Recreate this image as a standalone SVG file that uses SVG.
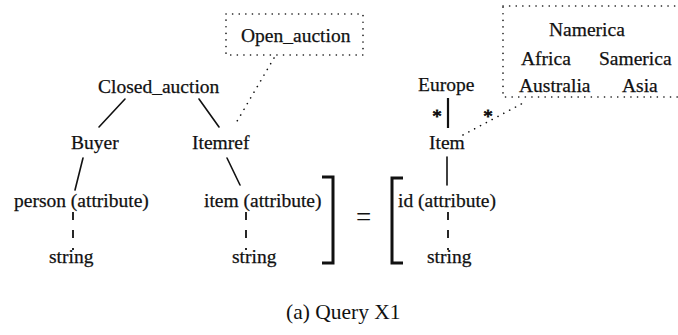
<svg xmlns="http://www.w3.org/2000/svg" width="678" height="335" viewBox="0 0 678 335">
<style>
text{font-family:"Liberation Serif","Times New Roman",serif;font-size:19.5px;fill:#111;stroke:#111;stroke-width:0.25}
.cap{font-size:21.5px;stroke-width:0}
.star{font-size:19px;text-anchor:middle;stroke-width:0.8}
.solid{stroke:#111;stroke-width:1.6;fill:none;stroke-linecap:round}
.thick{stroke:#111;stroke-width:2.2;fill:none}
.dash{stroke:#111;stroke-width:1.8;fill:none;stroke-dasharray:8 10}
.dot{stroke:#111;stroke-width:1.6;fill:none;stroke-dasharray:0.1 6.5;stroke-linecap:round}
.br{stroke:#111;stroke-width:3;fill:none;stroke-linejoin:miter}
</style>
<rect width="678" height="335" fill="#fff"/>
<g id="connectors">
<line class="solid" x1="125" y1="99" x2="99" y2="127"/>
<line class="solid" x1="199" y1="99" x2="219" y2="127"/>
<line class="solid" x1="83" y1="158" x2="75" y2="190"/>
<line class="solid" x1="227" y1="158" x2="240" y2="185"/>
<line class="dot" x1="274" y1="58" x2="236" y2="123"/>
<line class="dash" x1="73" y1="212" x2="73" y2="250"/>
<line class="dash" x1="246" y1="212" x2="246" y2="250"/>
<line class="thick" x1="448" y1="98" x2="448" y2="128"/>
<line class="solid" x1="447" y1="157" x2="447" y2="185"/>
<line class="dash" x1="448" y1="212" x2="448" y2="250"/>
<line class="dot" x1="463" y1="135" x2="527" y2="101"/>
<text class="star" x="437" y="123">*</text>
<text class="star" x="488" y="123">*</text>
</g>
<g id="open_auction">
<rect class="dot" x="226" y="14" width="137" height="41"/>
<text x="241" y="42">Open_auction</text>
</g>
<g id="regions">
<rect class="dot" x="503" y="6" width="200" height="91"/>
<text x="549" y="36">Namerica</text>
<text x="521" y="65">Africa</text>
<text x="599" y="65">Samerica</text>
<text x="519" y="92">Australia</text>
<text x="622" y="92">Asia</text>
</g>
<g id="closed_auction"><text x="98" y="93">Closed_auction</text></g>
<g id="buyer"><text x="71" y="149">Buyer</text></g>
<g id="itemref"><text x="192" y="149">Itemref</text></g>
<g id="person"><text x="14" y="207">person (attribute)</text></g>
<g id="item_attr"><text x="204" y="207">item (attribute)</text></g>
<g id="string1"><text x="49" y="263">string</text></g>
<g id="string2"><text x="232" y="263">string</text></g>
<g id="europe"><text x="418" y="91">Europe</text></g>
<g id="item"><text x="429" y="149">Item</text></g>
<g id="id_attr"><text x="398" y="207">id (attribute)</text></g>
<g id="string3"><text x="427" y="263">string</text></g>
<g id="brackets">
<polyline class="br" points="322,177 333,177 333,263 322,263"/>
<polyline class="br" points="403,178 392,178 392,263 403,263"/>
<text x="363.5" y="226" style="font-size:27px;text-anchor:middle;stroke-width:0">=</text>
</g>
<g id="caption"><text class="cap" x="286" y="319">(a) Query X1</text></g>
</svg>
